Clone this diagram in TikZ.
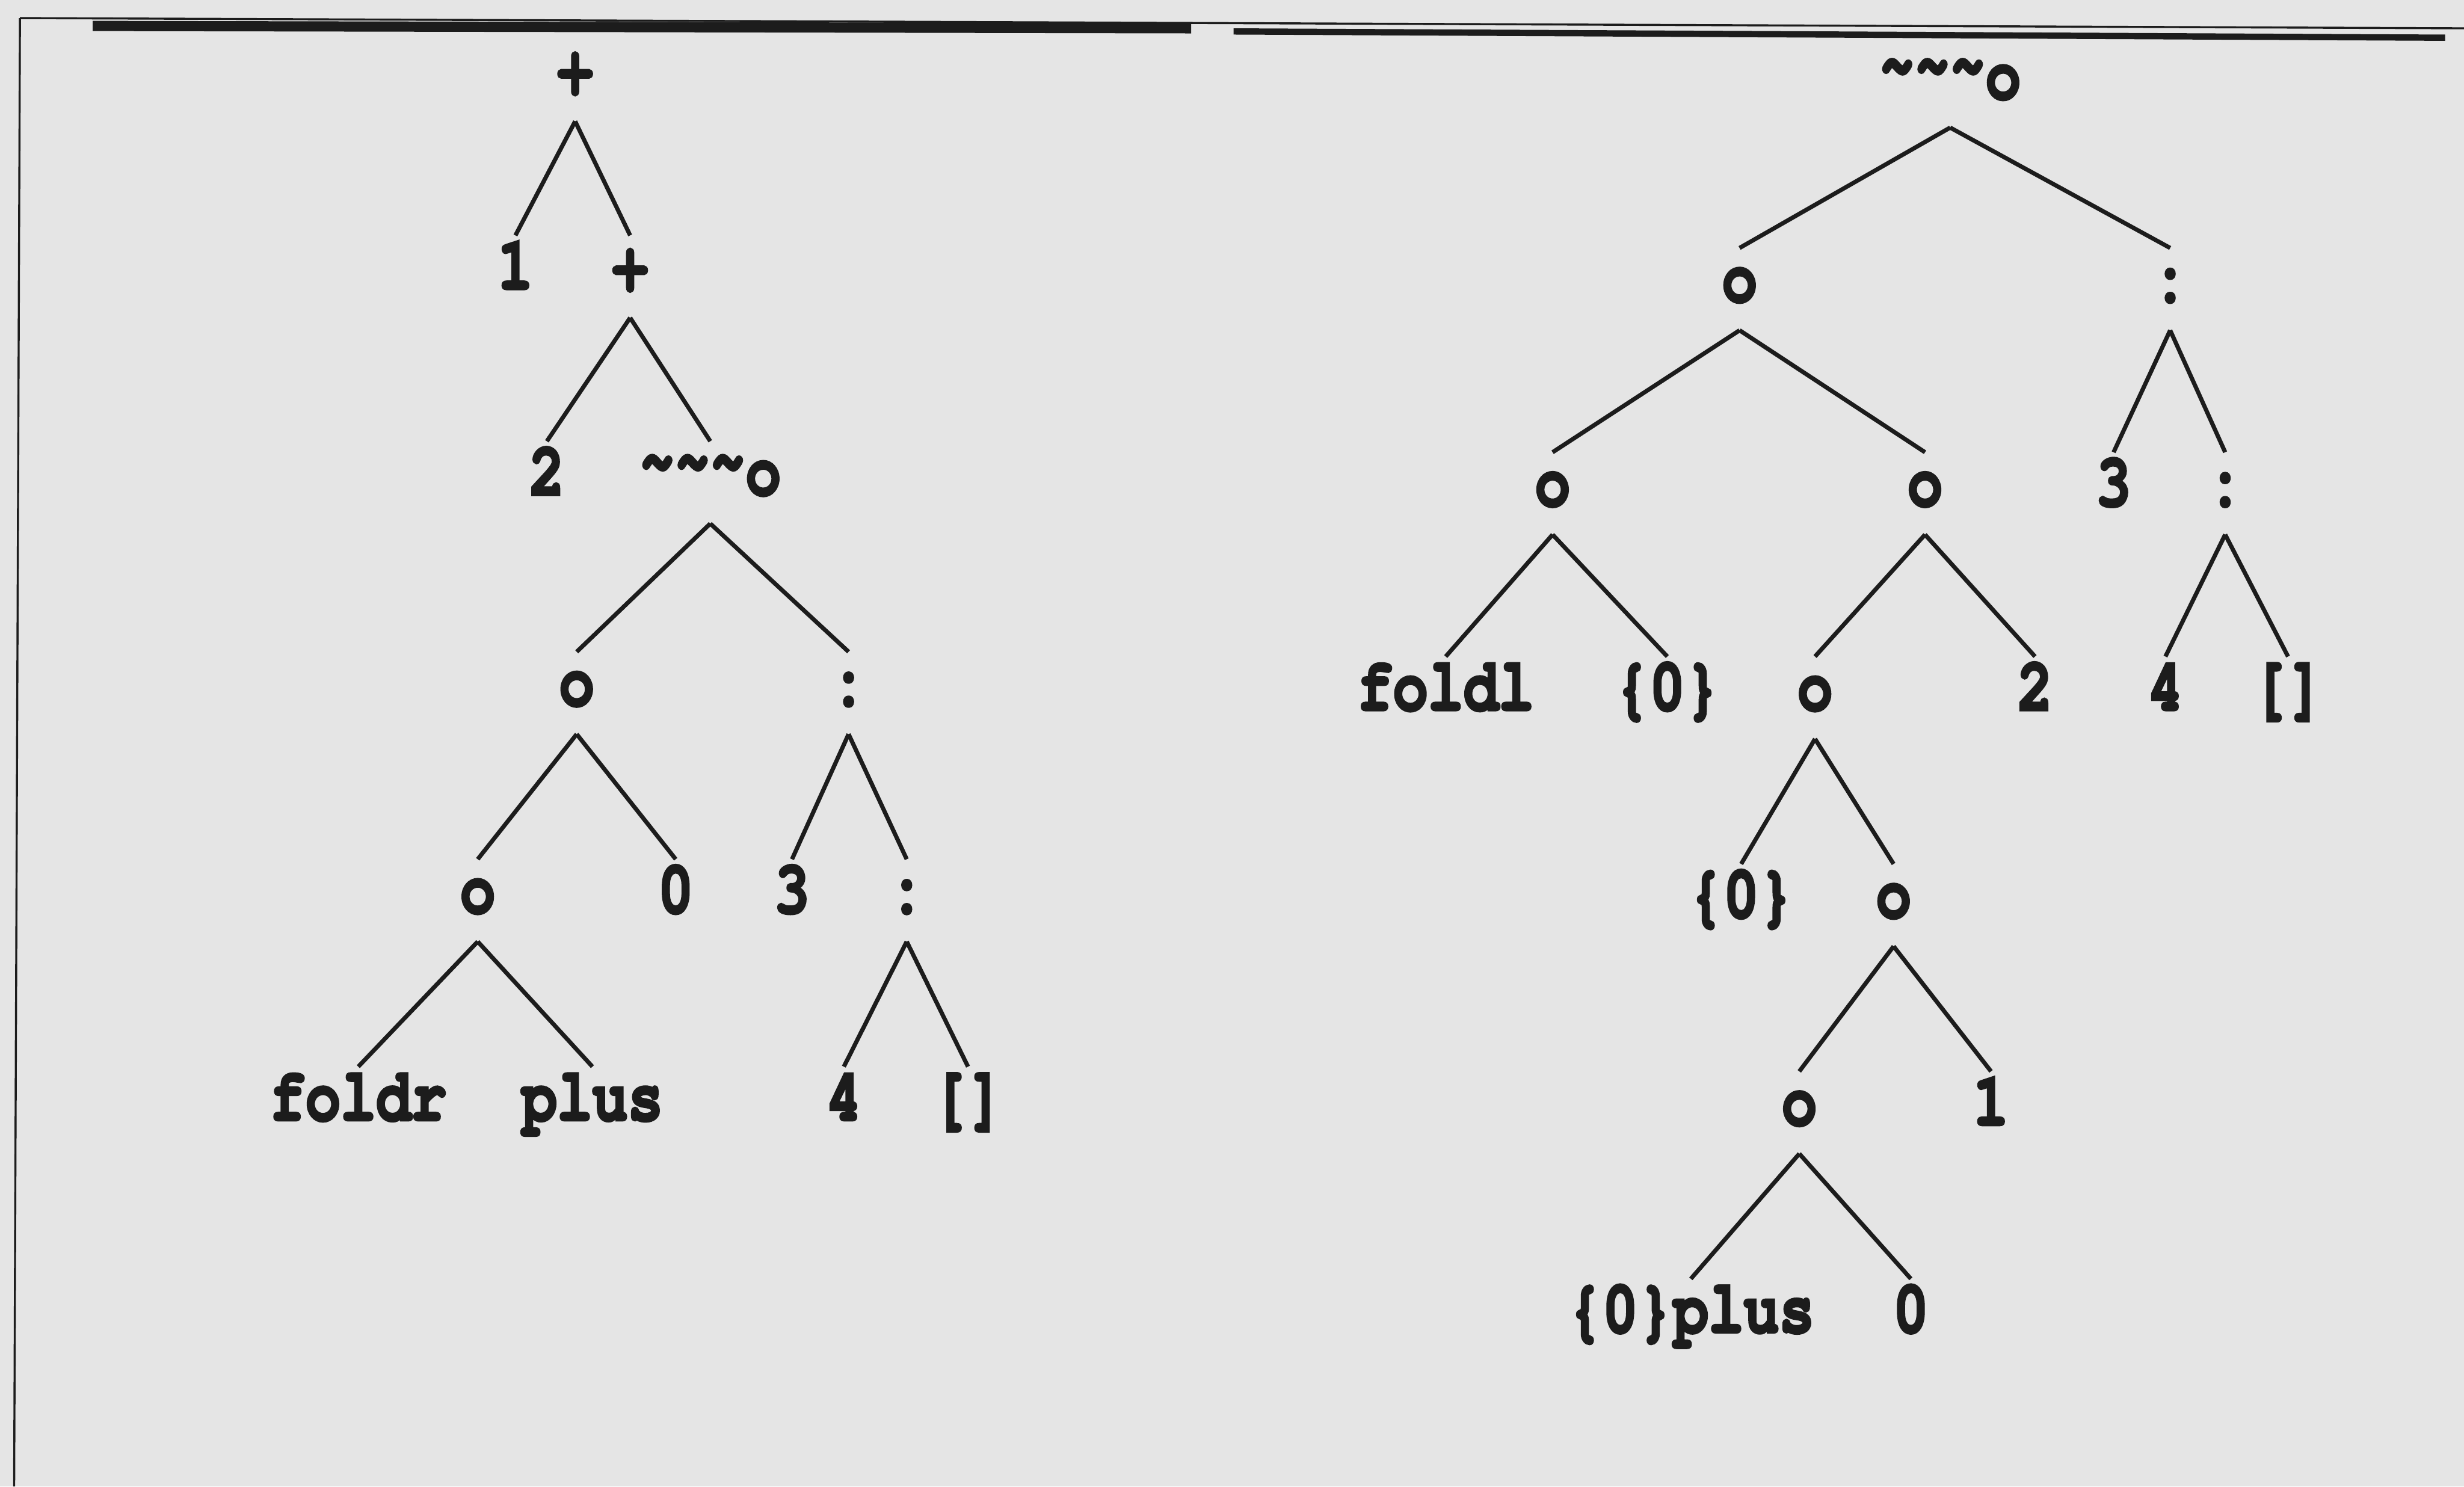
\documentclass[tikz,border=0pt]{standalone}
\usepackage{fontspec}
\newfontfamily\treefont{TeX Gyre Cursor}[FakeStretch=0.78, FakeBold=3]
\definecolor{bg}{RGB}{229,229,229}
\definecolor{ink}{RGB}{28,28,28}
\newcommand{\tl}{\raisebox{7pt}{\textasciitilde}}
\tikzset{
  lbl/.style={anchor=base, text=ink, font=\treefont\bfseries\fontsize{48}{52}\selectfont,
    text height=27pt, text depth=11pt, inner xsep=0pt, inner ysep=7pt},
  edge/.style={draw=ink, line width=2.7pt},
}
\begin{document}
\begin{tikzpicture}[x=1pt,y=-1pt]
\fill[bg] (0,0) rectangle (1568,946);
\useasboundingbox (0,0) rectangle (1568,946);
% frame rules
\draw[ink, line width=1.3pt] (12.7,11.5) -- (1568,18);
\draw[ink, line width=1.3pt] (12.7,11.5) -- (9,946);
\draw[ink, line width=6.5pt] (59,16.5) -- (758,18);
\draw[ink, line width=4pt] (785,20) -- (1556,24);
% left tree
\node[lbl] (L0) at (366,59) {+};
\node[lbl] (L1a) at (328,184) {1};
\node[lbl] (L1b) at (401,184) {+};
\node[lbl] (L2a) at (348,315) {2};
\node[lbl] (L2b) at (452,315) {\tl\tl\tl o};
\node[lbl] (L3a) at (367,449) {o};
\node[lbl] (L3b) at (540,449) {:};
\node[lbl] (L4a) at (304,581) {o};
\node[lbl] (L4b) at (430,581) {0};
\node[lbl] (L4c) at (504,581) {3};
\node[lbl] (L4d) at (577,581) {:};
\node[lbl] (L5a) at (228,713) {foldr};
\node[lbl] (L5b) at (377,713) {plus};
\node[lbl] (L5c) at (537,713) {4};
\node[lbl] (L5d) at (616,713) {[]};
\foreach \p/\c in {L0/L1a,L0/L1b,L1b/L2a,L1b/L2b,L2b/L3a,L2b/L3b,L3a/L4a,L3a/L4b,L3b/L4c,L3b/L4d,L4a/L5a,L4a/L5b,L4d/L5c,L4d/L5d}
  \draw[edge] (\p.south) -- (\c.north);
% right tree
\node[lbl] (R0) at (1241,63) {\tl\tl\tl o};
\node[lbl] (R1a) at (1107,192) {o};
\node[lbl] (R1b) at (1381,192) {:};
\node[lbl] (R2a) at (988,322) {o};
\node[lbl] (R2b) at (1225,322) {o};
\node[lbl] (R2c) at (1345,322) {3};
\node[lbl] (R2d) at (1416,322) {:};
\node[lbl] (R3a) at (920,452) {foldl};
\node[lbl] (R3b) at (1061,452) {\{0\}};
\node[lbl] (R3c) at (1155,452) {o};
\node[lbl] (R3d) at (1295,452) {2};
\node[lbl] (R3e) at (1378,452) {4};
\node[lbl] (R3f) at (1456,452) {[]};
\node[lbl] (R4a) at (1108,584) {\{0\}};
\node[lbl] (R4b) at (1205,584) {o};
\node[lbl] (R5a) at (1145,716) {o};
\node[lbl] (R5b) at (1267,716) {1};
\node[lbl] (R6a) at (1076,848) {\{0\}plus};
\node[lbl] (R6b) at (1216,848) {0};
\foreach \p/\c in {R0/R1a,R0/R1b,R1a/R2a,R1a/R2b,R1b/R2c,R1b/R2d,R2a/R3a,R2a/R3b,R2b/R3c,R2b/R3d,R2d/R3e,R2d/R3f,R3c/R4a,R3c/R4b,R4b/R5a,R4b/R5b,R5a/R6a,R5a/R6b}
  \draw[edge] (\p.south) -- (\c.north);
\end{tikzpicture}
\end{document}
